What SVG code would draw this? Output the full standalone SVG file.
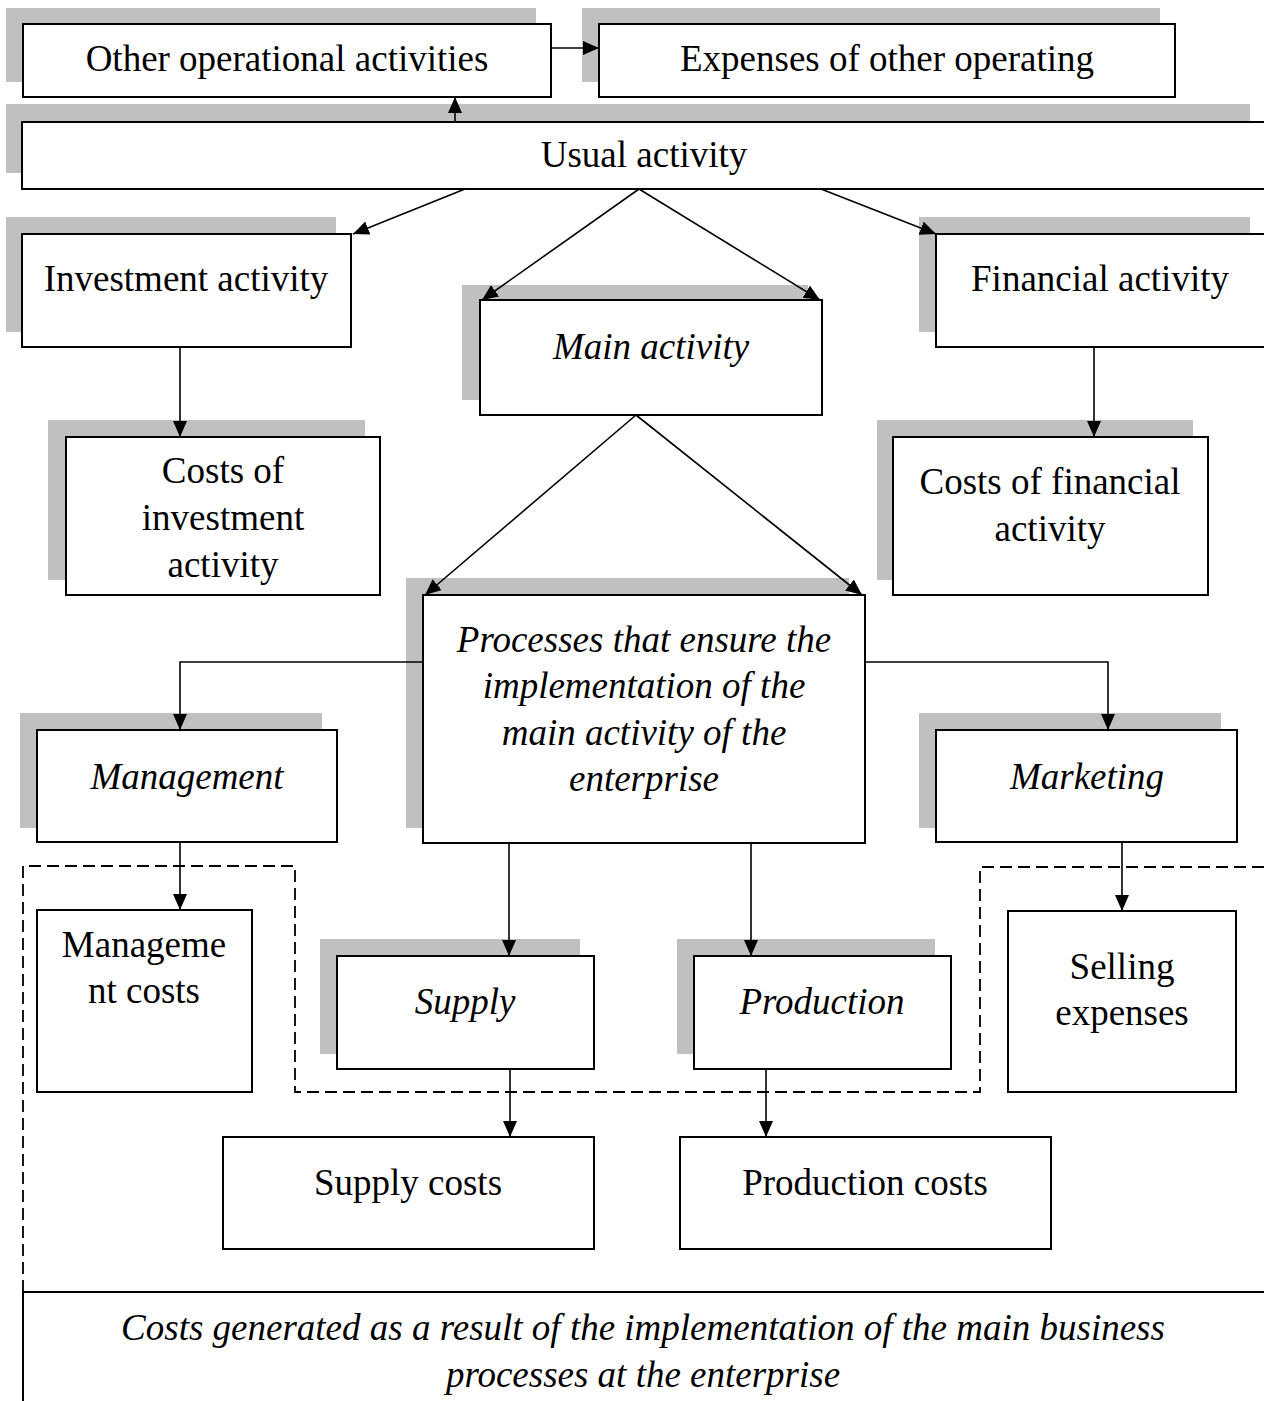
<svg xmlns="http://www.w3.org/2000/svg" width="1264" height="1401" viewBox="0 0 1264 1401">
  <style>
    .shadow { fill: #c0c0c0; stroke: none; }
    .box { fill: #ffffff; stroke: #000000; stroke-width: 2; }
    .txt { font-family: "Liberation Serif", "Times New Roman", serif; font-size: 37px; fill: #000000; text-anchor: middle; }
    .it { font-style: italic; }
    .conn { fill: none; stroke: #000000; stroke-width: 1.6; }
    .dash { fill: none; stroke: #000000; stroke-width: 1.8; stroke-dasharray: 12 6; }
  </style>
  <defs>
    <marker id="arrow" markerUnits="userSpaceOnUse" markerWidth="17" markerHeight="14" refX="16" refY="7" orient="auto">
      <path d="M0,0 L16,7 L0,14 z" fill="#000000"/>
    </marker>
  </defs>
  <rect width="1264" height="1401" fill="#ffffff"/>

  <!-- Top row -->
  <g id="other-operational">
    <rect class="shadow" x="6" y="8" width="530" height="74"/>
    <rect class="box" x="23" y="24" width="528" height="73"/>
    <text class="txt" x="287" y="71">Other operational activities</text>
  </g>
  <g id="expenses-other">
    <rect class="shadow" x="582" y="8" width="578" height="74"/>
    <rect class="box" x="599" y="24" width="576" height="73"/>
    <text class="txt" x="887" y="71">Expenses of other operating</text>
  </g>
  <g id="usual-activity">
    <rect class="shadow" x="6" y="104" width="1244" height="69"/>
    <rect class="box" x="22" y="122" width="1260" height="67"/>
    <text class="txt" x="644" y="167">Usual activity</text>
  </g>

  <!-- Second level -->
  <g id="investment-activity">
    <rect class="shadow" x="6" y="217" width="330" height="115"/>
    <rect class="box" x="22" y="234" width="329" height="113"/>
    <text class="txt" x="186" y="291">Investment activity</text>
  </g>
  <g id="main-activity">
    <rect class="shadow" x="462" y="285" width="346" height="115"/>
    <rect class="box" x="480" y="300" width="342" height="115"/>
    <text class="txt it" x="651" y="359">Main activity</text>
  </g>
  <g id="financial-activity">
    <rect class="shadow" x="919" y="217" width="331" height="115"/>
    <rect class="box" x="936" y="234" width="346" height="113"/>
    <text class="txt" x="1100" y="291">Financial activity</text>
  </g>

  <!-- Costs of investment / financial activity -->
  <g id="costs-investment">
    <rect class="shadow" x="48" y="420" width="317" height="160"/>
    <rect class="box" x="66" y="437" width="314" height="158"/>
    <text class="txt" x="223" y="483">Costs of</text>
    <text class="txt" x="223" y="530">investment</text>
    <text class="txt" x="223" y="577">activity</text>
  </g>
  <g id="costs-financial">
    <rect class="shadow" x="877" y="420" width="316" height="160"/>
    <rect class="box" x="893" y="437" width="315" height="158"/>
    <text class="txt" x="1050" y="494">Costs of financial</text>
    <text class="txt" x="1050" y="541">activity</text>
  </g>

  <!-- Processes -->
  <g id="processes">
    <rect class="shadow" x="406" y="578" width="443" height="250"/>
    <rect class="box" x="423" y="595" width="442" height="248"/>
    <text class="txt it" x="644" y="652">Processes that ensure the</text>
    <text class="txt it" x="644" y="698">implementation of the</text>
    <text class="txt it" x="644" y="745">main activity of the</text>
    <text class="txt it" x="644" y="791">enterprise</text>
  </g>
  <g id="management">
    <rect class="shadow" x="20" y="713" width="302" height="115"/>
    <rect class="box" x="37" y="730" width="300" height="112"/>
    <text class="txt it" x="187" y="789">Management</text>
  </g>
  <g id="marketing">
    <rect class="shadow" x="919" y="713" width="302" height="115"/>
    <rect class="box" x="936" y="730" width="301" height="112"/>
    <text class="txt it" x="1087" y="789">Marketing</text>
  </g>

  <!-- Lower level -->
  <g id="management-costs">
    <rect class="box" x="37" y="910" width="215" height="182"/>
    <text class="txt" x="144" y="957">Manageme</text>
    <text class="txt" x="144" y="1003">nt costs</text>
  </g>
  <g id="supply">
    <rect class="shadow" x="320" y="939" width="260" height="115"/>
    <rect class="box" x="337" y="956" width="257" height="113"/>
    <text class="txt it" x="465" y="1014">Supply</text>
  </g>
  <g id="production">
    <rect class="shadow" x="677" y="939" width="258" height="115"/>
    <rect class="box" x="694" y="956" width="257" height="113"/>
    <text class="txt it" x="822" y="1014">Production</text>
  </g>
  <g id="selling-expenses">
    <rect class="box" x="1008" y="911" width="228" height="181"/>
    <text class="txt" x="1122" y="979">Selling</text>
    <text class="txt" x="1122" y="1025">expenses</text>
  </g>
  <g id="supply-costs">
    <rect class="box" x="223" y="1137" width="371" height="112"/>
    <text class="txt" x="408" y="1195">Supply costs</text>
  </g>
  <g id="production-costs">
    <rect class="box" x="680" y="1137" width="371" height="112"/>
    <text class="txt" x="865" y="1195">Production costs</text>
  </g>

  <!-- Outline of the business-process cost area -->
  <g id="business-process-costs">
    <path class="dash" d="M23,1292 L23,866 L295,866 L295,1092 L980,1092 L980,867 L1264,867"/>
    <path class="conn" style="stroke-width:2" d="M23,1401 L23,1292 L1264,1292"/>
    <text class="txt it" x="643" y="1340">Costs generated as a result of the implementation of the main business</text>
    <text class="txt it" x="643" y="1387">processes at the enterprise</text>
  </g>

  <!-- Connectors -->
  <g id="connectors">
    <line class="conn" x1="551" y1="48" x2="599" y2="48" marker-end="url(#arrow)"/>
    <line class="conn" x1="455" y1="122" x2="455" y2="97" marker-end="url(#arrow)"/>
    <line class="conn" x1="465" y1="189" x2="353" y2="234" marker-end="url(#arrow)"/>
    <line class="conn" x1="639" y1="189" x2="482" y2="300" marker-end="url(#arrow)"/>
    <line class="conn" x1="639" y1="189" x2="820" y2="300" marker-end="url(#arrow)"/>
    <line class="conn" x1="821" y1="189" x2="936" y2="234" marker-end="url(#arrow)"/>
    <line class="conn" x1="180" y1="347" x2="180" y2="437" marker-end="url(#arrow)"/>
    <line class="conn" x1="1094" y1="347" x2="1094" y2="437" marker-end="url(#arrow)"/>
    <line class="conn" x1="636" y1="415" x2="425" y2="595" marker-end="url(#arrow)"/>
    <line class="conn" x1="636" y1="415" x2="862" y2="595" marker-end="url(#arrow)"/>
    <polyline class="conn" points="423,662 180,662 180,730" marker-end="url(#arrow)"/>
    <polyline class="conn" points="865,662 1108,662 1108,730" marker-end="url(#arrow)"/>
    <line class="conn" x1="180" y1="842" x2="180" y2="910" marker-end="url(#arrow)"/>
    <line class="conn" x1="1122" y1="842" x2="1122" y2="911" marker-end="url(#arrow)"/>
    <line class="conn" x1="509" y1="843" x2="509" y2="956" marker-end="url(#arrow)"/>
    <line class="conn" x1="751" y1="843" x2="751" y2="956" marker-end="url(#arrow)"/>
    <line class="conn" x1="510" y1="1069" x2="510" y2="1137" marker-end="url(#arrow)"/>
    <line class="conn" x1="766" y1="1069" x2="766" y2="1137" marker-end="url(#arrow)"/>
  </g>
</svg>
